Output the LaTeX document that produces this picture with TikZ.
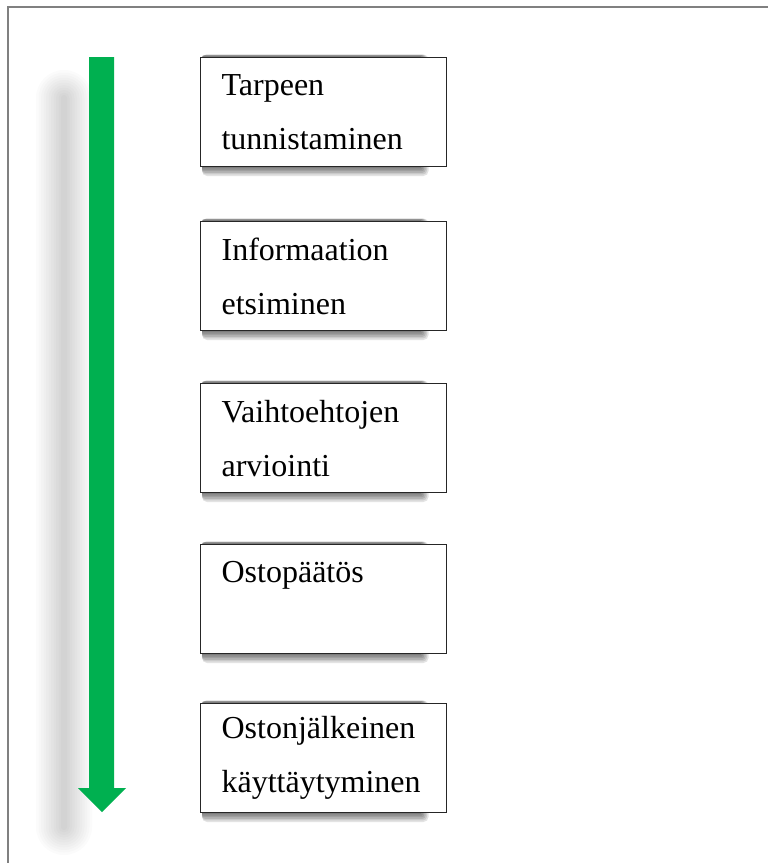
\documentclass[tikz,border=0pt]{standalone}
\usepackage{fontspec}
\setmainfont{Liberation Serif}
\definecolor{stepgreen}{HTML}{00B050}

\begin{document}
\begin{tikzpicture}[x=1pt,y=-1pt,
  stage/.style={draw=black!85,line width=1.2pt,fill=white,anchor=north west,
    minimum width=246pt,minimum height=109pt,text width=204pt,inner xsep=21pt,
    align=left,font=\fontsize{32}{54}\selectfont}]
  \useasboundingbox (0,0) rectangle (768,863);
  \fill[white] (0,0) rectangle (768,863);
  \draw[gray,line width=1.5pt] (8,880) -- (8,7) -- (790,7);
  % soft shadow beside the arrow
  \foreach \i [evaluate=\i as \r using 3+2.5*\i] in {0,...,10}
    \fill[black,opacity=0.017,rounded corners=\r pt] (61-2.5*\i,95-2.5*\i) rectangle (67+2.5*\i,830+2.5*\i);
  % arrow down the stages
  \fill[stepgreen] (89,57) -- (114,57) -- (114,788) -- (126,788) -- (102,812) -- (78,788) -- (89,788) -- cycle;
  % shadows under the stages
  \foreach \t in {57,221,383,544,703}
    \foreach \i [evaluate=\i as \r using 0.5+1.5*\i] in {0,...,5}
      \fill[black,opacity=0.11,rounded corners=\r pt] (202,\t-1.5-0.2*\i) rectangle (421+1.5*\i,\t+111+1.6*\i);
  % stages
  \node[stage] (need) at (200,57) {Tarpeen\\tunnistaminen};
  \node[stage] (info) at (200,221) {Informaation\\etsiminen};
  \node[stage] (eval) at (200,383) {Vaihtoehtojen\\arviointi};
  \node[stage] (buy) at (200,544) {Ostopäätös\\\mbox{}};
  \node[stage] (after) at (200,703) {Ostonjälkeinen\\käyttäytyminen};
\end{tikzpicture}
\end{document}
